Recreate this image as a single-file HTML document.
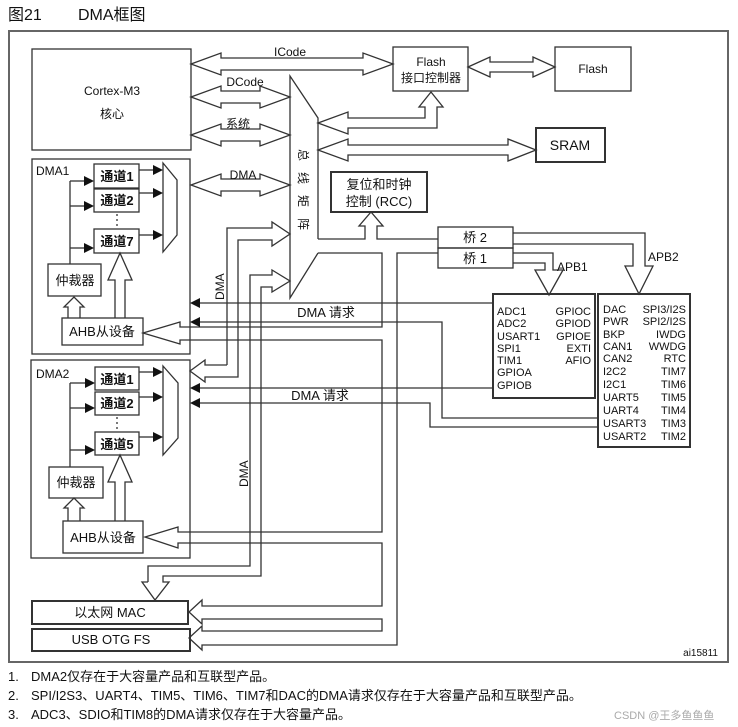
<!DOCTYPE html>
<html><head><meta charset="utf-8"><style>
html,body{margin:0;padding:0;background:#fff;}
svg{display:block;}
text{font-family:"Liberation Sans","Noto Sans CJK SC",sans-serif;fill:#111;}
</style></head><body>
<svg width="738" height="727" viewBox="0 0 738 727" xmlns="http://www.w3.org/2000/svg">
<g fill="none" stroke="#222" stroke-width="1.2">
<!-- title -->
</g>
<text x="8" y="20" font-size="16">图21</text>
<text x="78" y="20" font-size="16">DMA框图</text>
<g fill="none" stroke="#333" stroke-width="1.3">
<rect x="9" y="31" width="719" height="631" stroke="#666" stroke-width="2"/>
<!-- Cortex -->
<rect x="32" y="49" width="159" height="101"/>
<!-- DMA1 / DMA2 -->
<rect x="32" y="159" width="158" height="195"/>
<rect x="31" y="360" width="159" height="198"/>
<!-- Flash if, Flash -->
<rect x="393" y="47" width="75" height="44"/>
<rect x="555" y="47" width="76" height="44"/>
<rect x="536" y="128" width="69" height="34" stroke-width="2"/>
<rect x="331" y="172" width="96" height="40" stroke-width="2"/>
<!-- bridges -->
<rect x="438" y="227" width="75" height="21"/>
<rect x="438" y="248" width="75" height="20"/>
<!-- APB boxes -->
<rect x="493" y="294" width="102" height="104" stroke-width="2"/>
<rect x="598" y="294" width="92" height="153" stroke-width="2"/>
<!-- Ethernet / USB -->
<rect x="32" y="601" width="156" height="23" stroke-width="2"/>
<rect x="32" y="629" width="158" height="22" stroke-width="2"/>
<!-- DMA1 internals -->
<rect x="94" y="164" width="45" height="24"/>
<rect x="94" y="189" width="45" height="23"/>
<rect x="94" y="229" width="45" height="24"/>
<polygon points="163,163 177,180 177,235 163,252"/>
<rect x="48" y="264" width="53" height="32"/>
<rect x="62" y="318" width="81" height="27"/>
<line x1="70" y1="181" x2="70" y2="264"/>
<line x1="70" y1="181" x2="86" y2="181"/><line x1="70" y1="206" x2="86" y2="206"/><line x1="70" y1="248" x2="86" y2="248"/>
<line x1="139" y1="170" x2="155" y2="170"/><line x1="139" y1="193" x2="155" y2="193"/><line x1="139" y1="235" x2="155" y2="235"/>
<line x1="117" y1="214" x2="117" y2="228" stroke-dasharray="2,3"/>
<polyline points="68,318 68,307 64,307 74,297 84,307 80,307 80,318"/>
<polyline points="115,318 115,280 108,280 120,253 132,280 125,280 125,318"/>
<!-- DMA2 internals -->
<rect x="95" y="367" width="44" height="23"/>
<rect x="95" y="392" width="44" height="23"/>
<rect x="95" y="432" width="44" height="23"/>
<polygon points="163,366 178,383 178,438 163,455"/>
<rect x="49" y="467" width="54" height="31"/>
<rect x="63" y="521" width="80" height="32"/>
<line x1="70" y1="383" x2="70" y2="467"/>
<line x1="70" y1="383" x2="86" y2="383"/><line x1="70" y1="408" x2="86" y2="408"/><line x1="70" y1="450" x2="86" y2="450"/>
<line x1="139" y1="372" x2="155" y2="372"/><line x1="139" y1="397" x2="155" y2="397"/><line x1="139" y1="437" x2="155" y2="437"/>
<line x1="117" y1="417" x2="117" y2="431" stroke-dasharray="2,3"/>
<polyline points="68,521 68,508 64,508 74,498 84,508 80,508 80,521"/>
<polyline points="115,521 115,482 108,482 120,455 132,482 125,482 125,521"/>
<!-- bus matrix -->
<polyline points="318,239 318,118 290,76 290,298 318,253"/>
<!-- hollow double arrows -->
<polygon fill="#fff" points="191,64 221,53 221,58 363,58 363,53 393,64 363,75 363,70 221,70 221,75"/>
<polygon fill="#fff" points="191,97 221,86 221,91 260,91 260,86 290,97 260,108 260,103 221,103 221,108"/>
<polygon fill="#fff" points="191,135 221,124 221,129 260,129 260,124 290,135 260,146 260,141 221,141 221,146"/>
<polygon fill="#fff" points="191,185 221,174 221,179 260,179 260,174 290,185 260,196 260,191 221,191 221,196"/>
<polygon fill="#fff" points="468,67 490,57 490,62 533,62 533,57 555,67 533,77 533,72 490,72 490,77"/>
<polygon fill="#fff" points="318,123 348,112 348,118 425,118 425,107 419,107 431,92 443,107 437,107 437,128 348,128 348,134"/>
<polygon fill="#fff" points="318,150 348,139 348,145 508,145 508,139 536,150 508,161 508,155 348,155 348,161"/>
<!-- AHB bus to bridges -->
<polyline points="318,239 365,239 365,226 359,226 371,212 383,226 377,226 377,239 438,239"/>
<polyline points="318,253 382,253 382,327 180,327 180,322 143,333 180,344 180,340 382,340 382,532 178,532 178,527 145,537 178,548 178,543 382,543 382,606 202,606 202,600 189,612 202,624 202,619 382,619 382,631 202,631 202,626 189,638 202,650 202,645 397,645 397,253 438,253"/>
<!-- bus A (DMA2 master) -->
<polyline points="227,365 227,228 272,228 272,222 290,234 272,246 272,240 238,240 238,377 205,377 205,382 190,371 205,360 205,365 227,365"/>
<!-- bus B (Ethernet DMA) -->
<polyline points="148,582 148,566 250,566 250,275 272,275 272,270 290,281 272,292 272,287 261,287 261,576 163,576 163,582 169,582 155,600 142,582 148,582"/>
<!-- bridge outputs -->
<polyline points="513,233 645,233 645,266 653,266 639,294 625,266 633,266 633,244 513,244"/>
<polyline points="513,253 553,253 553,270 563,270 549,295 535,270 545,270 545,263 513,263"/>
<!-- DMA requests -->
<line x1="493" y1="303" x2="198" y2="303"/>
<polyline points="598,418 442,418 442,322 198,322"/>
<line x1="493" y1="388" x2="198" y2="388"/>
<polyline points="598,427 430,427 430,403 198,403"/>
</g>
<g fill="#111">
<polygon points="94,181 84,176 84,186"/><polygon points="94,206 84,201 84,211"/><polygon points="94,248 84,243 84,253"/>
<polygon points="163,170 153,165 153,175"/><polygon points="163,193 153,188 153,198"/><polygon points="163,235 153,230 153,240"/>
<polygon points="95,383 85,378 85,388"/><polygon points="95,408 85,403 85,413"/><polygon points="95,450 85,445 85,455"/>
<polygon points="163,372 153,367 153,377"/><polygon points="163,397 153,392 153,402"/><polygon points="163,437 153,432 153,442"/>
<polygon points="190,303 200,298 200,308"/><polygon points="190,322 200,317 200,327"/>
<polygon points="190,388 200,383 200,393"/><polygon points="190,403 200,398 200,408"/>
</g>
<g font-size="12">
<text x="112" y="95" text-anchor="middle">Cortex-M3</text>
<text x="112" y="118" text-anchor="middle">核心</text>
<text x="290" y="56" text-anchor="middle">ICode</text>
<text x="245" y="86" text-anchor="middle">DCode</text>
<text x="238" y="128" text-anchor="middle">系统</text>
<text x="243" y="179" text-anchor="middle">DMA</text>
<text x="431" y="66" text-anchor="middle">Flash</text>
<text x="431" y="82" text-anchor="middle">接口控制器</text>
<text x="593" y="73" text-anchor="middle">Flash</text>
<text x="570" y="150" text-anchor="middle" font-size="14">SRAM</text>
<text x="379" y="189" text-anchor="middle" font-size="13">复位和时钟</text>
<text x="379" y="206" text-anchor="middle" font-size="13">控制 (RCC)</text>
<text x="475" y="242" text-anchor="middle" font-size="13">桥  2</text>
<text x="475" y="263" text-anchor="middle" font-size="13">桥  1</text>
<text x="557" y="271">APB1</text>
<text x="648" y="261">APB2</text>
<text x="36" y="175">DMA1</text>
<text x="36" y="378">DMA2</text>
<text x="117" y="181" text-anchor="middle" font-size="13" font-weight="bold">通道1</text>
<text x="117" y="205" text-anchor="middle" font-size="13" font-weight="bold">通道2</text>
<text x="117" y="246" text-anchor="middle" font-size="13" font-weight="bold">通道7</text>
<text x="117" y="384" text-anchor="middle" font-size="13" font-weight="bold">通道1</text>
<text x="117" y="408" text-anchor="middle" font-size="13" font-weight="bold">通道2</text>
<text x="117" y="449" text-anchor="middle" font-size="13" font-weight="bold">通道5</text>
<text x="75" y="285" text-anchor="middle" font-size="13">仲裁器</text>
<text x="76" y="487" text-anchor="middle" font-size="13">仲裁器</text>
<text x="102" y="336" text-anchor="middle" font-size="13">AHB从设备</text>
<text x="103" y="542" text-anchor="middle" font-size="13">AHB从设备</text>
<text x="110" y="617" text-anchor="middle" font-size="13">以太网 MAC</text>
<text x="111" y="644" text-anchor="middle" font-size="13">USB OTG FS</text>
<text x="326" y="317" text-anchor="middle" font-size="13">DMA  请求</text>
<text x="320" y="400" text-anchor="middle" font-size="13">DMA 请求</text>
<text transform="translate(224,300) rotate(-90)">DMA</text>
<text transform="translate(248,487) rotate(-90)">DMA</text>
<g font-size="12">
<text transform="translate(299,149) rotate(90)">总</text>
<text transform="translate(299,172) rotate(90)">线</text>
<text transform="translate(299,195) rotate(90)">矩</text>
<text transform="translate(299,218) rotate(90)">阵</text>
</g>
</g>
<g font-size="11">
<text x="497" y="315">ADC1</text><text x="497" y="327">ADC2</text><text x="497" y="340">USART1</text><text x="497" y="352">SPI1</text><text x="497" y="364">TIM1</text><text x="497" y="376">GPIOA</text><text x="497" y="389">GPIOB</text>
<g text-anchor="end"><text x="591" y="315">GPIOC</text><text x="591" y="327">GPIOD</text><text x="591" y="340">GPIOE</text><text x="591" y="352">EXTI</text><text x="591" y="364">AFIO</text></g>
<text x="603" y="313">DAC</text><text x="603" y="325">PWR</text><text x="603" y="338">BKP</text><text x="603" y="350">CAN1</text><text x="603" y="362">CAN2</text><text x="603" y="375">I2C2</text><text x="603" y="388">I2C1</text><text x="603" y="401">UART5</text><text x="603" y="414">UART4</text><text x="603" y="427">USART3</text><text x="603" y="440">USART2</text>
<g text-anchor="end"><text x="686" y="313">SPI3/I2S</text><text x="686" y="325">SPI2/I2S</text><text x="686" y="338">IWDG</text><text x="686" y="350">WWDG</text><text x="686" y="362">RTC</text><text x="686" y="375">TIM7</text><text x="686" y="388">TIM6</text><text x="686" y="401">TIM5</text><text x="686" y="414">TIM4</text><text x="686" y="427">TIM3</text><text x="686" y="440">TIM2</text></g>
<text x="718" y="656" text-anchor="end" font-size="10">ai15811</text>
</g>
<g font-size="13">
<text x="8" y="681">1.</text><text x="31" y="681">DMA2仅存在于大容量产品和互联型产品。</text>
<text x="8" y="700">2.</text><text x="31" y="700">SPI/I2S3、UART4、TIM5、TIM6、TIM7和DAC的DMA请求仅存在于大容量产品和互联型产品。</text>
<text x="8" y="719">3.</text><text x="31" y="719">ADC3、SDIO和TIM8的DMA请求仅存在于大容量产品。</text>
</g>
<text x="614" y="719" font-size="11" style="fill:#aaa">CSDN @王多鱼鱼鱼</text>
</svg>
</body></html>
